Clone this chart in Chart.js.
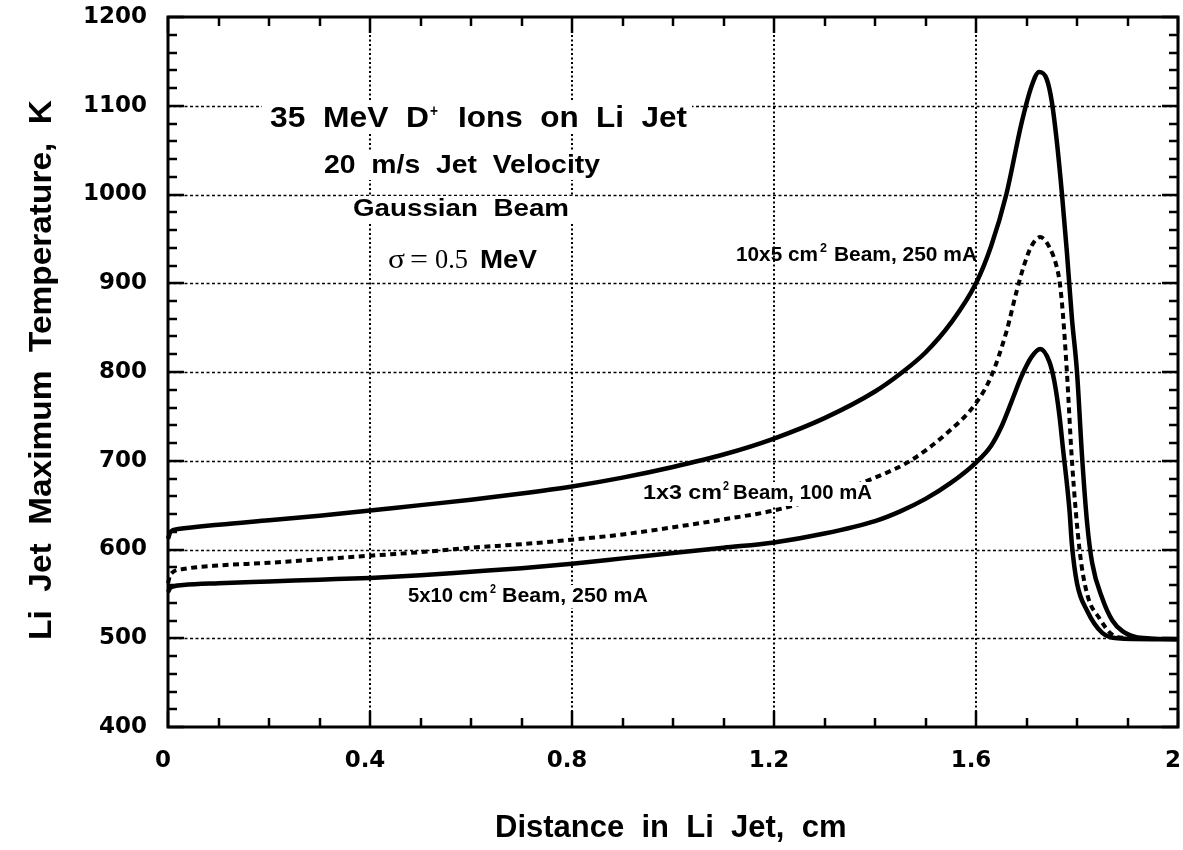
<!DOCTYPE html>
<html>
<head>
<meta charset="utf-8">
<script src="https://cdn.jsdelivr.net/npm/chart.js@4.4.1/dist/chart.umd.min.js"></script>
<style>
  html, body { margin: 0; padding: 0; background: #ffffff; }
  #wrap { width: 1183px; height: 850px; }
</style>
</head>
<body>
<div id="wrap"><canvas id="c" width="1183" height="850"></canvas></div>
<script>
// ---- Data ----
const xTickLabels = ["0", "0.4", "0.8", "1.2", "1.6", "2"];
const yTickLabels = ["400", "500", "600", "700", "800", "900", "1000", "1100", "1200"];

// 10x5 cm^2 Beam, 250 mA (solid, upper)
const xBeam10x5 = [0, 0.005, 0.02, 0.1, 0.2, 0.3, 0.4, 0.5, 0.6, 0.7, 0.8, 0.9, 1.0, 1.1, 1.2, 1.3, 1.4, 1.45, 1.5, 1.55, 1.6, 1.63, 1.66, 1.69, 1.71, 1.725, 1.74, 1.75, 1.76, 1.77, 1.78, 1.79, 1.8, 1.81, 1.82, 1.83, 1.85, 1.87, 1.89, 1.92, 2.0];
const yBeam10x5 = [612, 620, 623, 628, 633, 638, 644, 650, 656, 663, 671, 681, 693, 707, 725, 748, 778, 798, 822, 855, 900, 942, 1000, 1080, 1122, 1138, 1130, 1105, 1060, 1002, 935, 860, 800, 705, 630, 585, 545, 520, 508, 501, 499];

// 1x3 cm^2 Beam, 100 mA (dotted, middle)
const xBeam1x3 = [0, 0.005, 0.03, 0.1, 0.2, 0.3, 0.4, 0.5, 0.6, 0.7, 0.8, 0.9, 1.0, 1.1, 1.2, 1.3, 1.4, 1.47, 1.54, 1.6, 1.63, 1.66, 1.68, 1.695, 1.71, 1.727, 1.746, 1.76, 1.766, 1.772, 1.78, 1.79, 1.805, 1.82, 1.845, 1.87, 1.9];
const yBeam1x3 = [562, 572, 578, 582, 585, 589, 593, 597, 602, 606, 611, 617, 625, 634, 644, 660, 681, 700, 730, 765, 795, 845, 890, 920, 942, 952, 940, 918, 900, 866, 800, 700, 600, 550, 522, 504, 500];

// 5x10 cm^2 Beam, 250 mA (solid, lower)
const xBeam5x10 = [0, 0.005, 0.03, 0.1, 0.2, 0.3, 0.4, 0.5, 0.6, 0.7, 0.8, 0.9, 1.0, 1.1, 1.2, 1.3, 1.4, 1.45, 1.5, 1.55, 1.6, 1.63, 1.65, 1.67, 1.69, 1.71, 1.727, 1.745, 1.755, 1.765, 1.772, 1.785, 1.79, 1.8, 1.82, 1.85, 1.88, 1.95, 2.0];
const yBeam5x10 = [552, 557, 560, 562, 564, 566, 568, 571, 575, 579, 584, 590, 596, 602, 608, 618, 632, 643, 657, 675, 698, 717, 738, 766, 795, 817, 826, 812, 790, 752, 715, 645, 605, 562, 531, 506, 500, 499, 499];

const xGridValues = [0.4, 0.8, 1.2, 1.6];
const yGridValues = [500, 600, 700, 800, 900, 1000, 1100];

function pts(xs, ys) { return xs.map((x, i) => ({ x: x, y: ys[i] })); }

const SANS = '"Liberation Sans", Arial, Helvetica, sans-serif';
const SERIF = '"Liberation Serif", "Times New Roman", serif';

function fitText(ctx, str, x1, x2, y, font) {
  ctx.font = font;
  const w = ctx.measureText(str).width;
  ctx.save();
  ctx.translate(x1, y);
  ctx.scale((x2 - x1) / w, 1);
  ctx.fillText(str, 0, 0);
  ctx.restore();
}
function whiteBox(ctx, x1, x2, y1, y2) {
  ctx.save();
  ctx.fillStyle = '#ffffff';
  ctx.fillRect(x1, y1, x2 - x1, y2 - y1);
  ctx.restore();
}
function noPad(scale) {
  scale.paddingLeft = 0; scale.paddingRight = 0;
  scale.paddingTop = 0; scale.paddingBottom = 0;
}

const deco = {
  id: 'deco',
  beforeDatasetsDraw(chart) {
    const ctx = chart.ctx, a = chart.chartArea;
    const xs = chart.scales.x, ys = chart.scales.y;
    ctx.save();
    ctx.strokeStyle = '#000';
    ctx.lineWidth = 2;
    ctx.setLineDash([2, 2.5]);
    xGridValues.forEach(v => {
      const px = Math.round(xs.getPixelForValue(v));
      ctx.beginPath(); ctx.moveTo(px, a.top); ctx.lineTo(px, a.bottom); ctx.stroke();
    });
    ctx.lineWidth = 1.5;
    ctx.setLineDash([3, 2.5]);
    yGridValues.forEach(v => {
      const py = Math.round(ys.getPixelForValue(v)) + 0.5;
      ctx.beginPath(); ctx.moveTo(a.left, py); ctx.lineTo(a.right, py); ctx.stroke();
    });
    ctx.restore();
    whiteBox(ctx, 262, 692, 100, 133);
    whiteBox(ctx, 318, 606, 152, 180);
    whiteBox(ctx, 347, 575, 196, 223);
    whiteBox(ctx, 382, 543, 245, 275);
  },
  afterDatasetsDraw(chart) {
    const ctx = chart.ctx, a = chart.chartArea;
    const xs = chart.scales.x, ys = chart.scales.y;
    // label backgrounds that hide the lines behind them (as in the reference)
    whiteBox(ctx, 640, 874, 482, 506);
    whiteBox(ctx, 405, 651, 585, 608);
    ctx.save();
    ctx.strokeStyle = '#000';
    ctx.setLineDash([]);
    ctx.lineWidth = 2.5;
    for (let i = 0; i <= 20; i++) {
      const px = Math.round(xs.getPixelForValue(i / 10));
      const len = (i % 4 === 0) ? 16 : 9;
      ctx.beginPath();
      ctx.moveTo(px, a.bottom); ctx.lineTo(px, a.bottom - len);
      ctx.moveTo(px, a.top); ctx.lineTo(px, a.top + len);
      ctx.stroke();
    }
    for (let v = 400; v <= 1200; v += 20) {
      const py = Math.round(ys.getPixelForValue(v));
      const len = (v % 100 === 0) ? 16 : 9;
      ctx.beginPath();
      ctx.moveTo(a.left, py); ctx.lineTo(a.left + len, py);
      ctx.moveTo(a.right, py); ctx.lineTo(a.right - len, py);
      ctx.stroke();
    }
    ctx.lineWidth = 3;
    ctx.strokeRect(a.left, a.top, a.right - a.left, a.bottom - a.top);

    ctx.fillStyle = '#000';
    ctx.textAlign = 'left';
    ctx.textBaseline = 'alphabetic';
    fitText(ctx, '35  MeV  D', 270, 429, 127, 'bold 30px ' + SANS);
    fitText(ctx, '+', 430, 438, 116, 'bold 17px ' + SANS);
    fitText(ctx, 'Ions  on  Li  Jet', 458, 687, 127, 'bold 30px ' + SANS);
    fitText(ctx, '20  m/s  Jet  Velocity', 324, 600, 173, 'bold 25px ' + SANS);
    fitText(ctx, 'Gaussian  Beam', 353, 569, 216, 'bold 24px ' + SANS);
    fitText(ctx, '\u03C3', 388, 405, 268, '28px ' + SERIF);
    fitText(ctx, '=', 410, 428, 268, '28px ' + SERIF);
    fitText(ctx, '0.5', 435, 468, 268, '27px ' + SERIF);
    fitText(ctx, 'MeV', 480, 537, 268, 'bold 25px ' + SANS);

    fitText(ctx, '10x5 cm', 736, 818, 261, 'bold 20px ' + SANS);
    fitText(ctx, '2', 820, 827, 252, 'bold 13px ' + SANS);
    fitText(ctx, 'Beam, 250 mA', 834, 977, 261, 'bold 20px ' + SANS);

    fitText(ctx, '1x3 cm', 643, 722, 499, 'bold 20px ' + SANS);
    fitText(ctx, '2', 723, 729, 490, 'bold 13px ' + SANS);
    fitText(ctx, 'Beam, 100 mA', 733, 872, 499, 'bold 20px ' + SANS);

    fitText(ctx, '5x10 cm', 408, 488, 602, 'bold 20px ' + SANS);
    fitText(ctx, '2', 490, 496, 593, 'bold 13px ' + SANS);
    fitText(ctx, 'Beam, 250 mA', 502, 648, 602, 'bold 20px ' + SANS);

    ctx.font = 'bold 31px ' + SANS;
    ctx.textAlign = 'left';
    ctx.fillText('Distance  in  Li  Jet,  cm', 495, 837);
    ctx.save();
    ctx.translate(51, 640);
    ctx.rotate(-Math.PI / 2);
    fitText(ctx, 'Li  Jet  Maximum  Temperature,  K', 0, 540, 0, 'bold 31px ' + SANS);
    ctx.restore();
    ctx.restore();
  }
};

const lineCommon = {
  borderColor: '#000',
  borderWidth: 4.5,
  pointRadius: 0,
  fill: false,
  cubicInterpolationMode: 'monotone'
};

new Chart(document.getElementById('c'), {
  type: 'line',
  data: {
    datasets: [
      Object.assign({ label: '10x5 cm2 Beam, 250 mA', data: pts(xBeam10x5, yBeam10x5) }, lineCommon),
      Object.assign({ label: '1x3 cm2 Beam, 100 mA', data: pts(xBeam1x3, yBeam1x3) }, lineCommon, { borderDash: [6, 4.5], borderWidth: 4 }),
      Object.assign({ label: '5x10 cm2 Beam, 250 mA', data: pts(xBeam5x10, yBeam5x10) }, lineCommon)
    ]
  },
  options: {
    responsive: false,
    devicePixelRatio: 1,
    animation: false,
    clip: false,
    layout: { padding: { top: 17, right: 5, left: 0, bottom: 0 } },
    plugins: { legend: { display: false }, tooltip: { enabled: false }, title: { display: false } },
    scales: {
      x: {
        type: 'linear', min: 0, max: 2,
        grid: { display: false, drawTicks: false },
        border: { display: false },
        afterFit(scale) { scale.height = 123; noPad(scale); },
        ticks: {
          stepSize: 0.4,
          padding: 20,
          labelOffset: -5,
          maxRotation: 0,
          autoSkip: false,
          color: '#000',
          font: { family: '"DejaVu Sans", sans-serif', weight: 'bold', size: 23 },
          callback: (v, i) => xTickLabels[i]
        }
      },
      y: {
        type: 'linear', min: 400, max: 1200,
        grid: { display: false, drawTicks: false },
        border: { display: false },
        afterFit(scale) { scale.width = 168; noPad(scale); },
        ticks: {
          stepSize: 100,
          padding: 21,
          autoSkip: false,
          color: '#000',
          font: { family: '"DejaVu Sans", sans-serif', weight: 'bold', size: 23 },
          callback: (v, i) => yTickLabels[i]
        }
      }
    }
  },
  plugins: [deco]
});
</script>
</body>
</html>
